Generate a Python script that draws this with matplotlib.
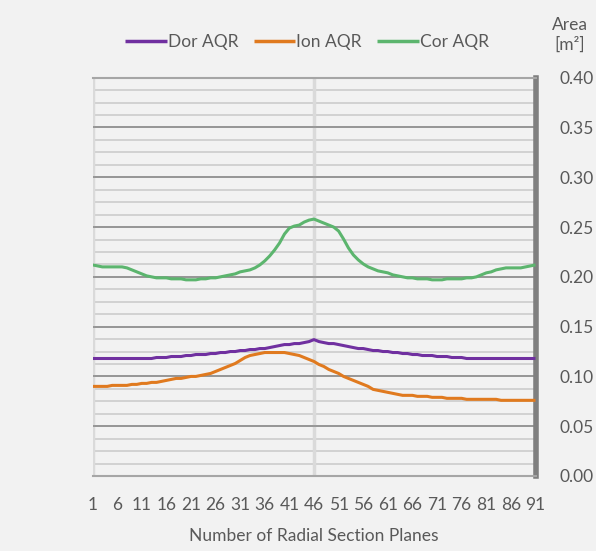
import matplotlib
matplotlib.use("Agg")
import matplotlib.pyplot as plt
import numpy as np

plt.rcParams['font.family'] = ['Lato', 'DejaVu Sans']

planes = list(range(1, 92))
tick_positions = list(range(1, 92, 5))

dor_aqr = [
    0.118, 0.118, 0.118, 0.118, 0.118, 0.118, 0.118, 0.118, 0.118, 0.118,
    0.118, 0.118, 0.118, 0.119, 0.119, 0.119, 0.120, 0.120, 0.120, 0.121,
    0.121, 0.122, 0.122, 0.122, 0.123, 0.123, 0.124, 0.124, 0.125, 0.125,
    0.126, 0.126, 0.127, 0.127, 0.128, 0.128, 0.129, 0.130, 0.131, 0.132,
    0.132, 0.133, 0.133, 0.134, 0.135, 0.137, 0.135, 0.134, 0.133, 0.133,
    0.132, 0.131, 0.130, 0.129, 0.128, 0.128, 0.127, 0.126, 0.126, 0.125,
    0.125, 0.124, 0.124, 0.123, 0.123, 0.122, 0.122, 0.121, 0.121, 0.121,
    0.120, 0.120, 0.120, 0.119, 0.119, 0.119, 0.118, 0.118, 0.118, 0.118,
    0.118, 0.118, 0.118, 0.118, 0.118, 0.118, 0.118, 0.118, 0.118, 0.118,
    0.118,
]

ion_aqr = [
    0.090, 0.090, 0.090, 0.090, 0.091, 0.091, 0.091, 0.091, 0.092, 0.092,
    0.093, 0.093, 0.094, 0.094, 0.095, 0.096, 0.097, 0.098, 0.098, 0.099,
    0.100, 0.100, 0.101, 0.102, 0.103, 0.105, 0.107, 0.109, 0.111, 0.113,
    0.116, 0.119, 0.121, 0.122, 0.123, 0.124, 0.124, 0.124, 0.124, 0.124,
    0.123, 0.122, 0.121, 0.119, 0.117, 0.115, 0.112, 0.110, 0.107, 0.105,
    0.103, 0.100, 0.098, 0.096, 0.094, 0.092, 0.090, 0.087, 0.086, 0.085,
    0.084, 0.083, 0.082, 0.081, 0.081, 0.081, 0.080, 0.080, 0.080, 0.079,
    0.079, 0.079, 0.078, 0.078, 0.078, 0.078, 0.077, 0.077, 0.077, 0.077,
    0.077, 0.077, 0.077, 0.076, 0.076, 0.076, 0.076, 0.076, 0.076, 0.076,
    0.076,
]

cor_aqr = [
    0.212, 0.211, 0.210, 0.210, 0.210, 0.210, 0.210, 0.209, 0.207, 0.205,
    0.203, 0.201, 0.200, 0.199, 0.199, 0.199, 0.198, 0.198, 0.198, 0.197,
    0.197, 0.197, 0.198, 0.198, 0.199, 0.199, 0.200, 0.201, 0.202, 0.203,
    0.205, 0.206, 0.207, 0.209, 0.212, 0.216, 0.221, 0.227, 0.234, 0.243,
    0.249, 0.251, 0.252, 0.255, 0.257, 0.258, 0.256, 0.254, 0.252, 0.250,
    0.246, 0.238, 0.229, 0.222, 0.217, 0.213, 0.210, 0.208, 0.206, 0.205,
    0.204, 0.202, 0.201, 0.200, 0.199, 0.199, 0.198, 0.198, 0.198, 0.197,
    0.197, 0.197, 0.198, 0.198, 0.198, 0.198, 0.199, 0.199, 0.200, 0.202,
    0.204, 0.205, 0.207, 0.208, 0.209, 0.209, 0.209, 0.209, 0.210, 0.211,
    0.212,
]

series_names = ["Dor AQR", "Ion AQR", "Cor AQR"]
series_colors = ["#7030A0", "#E07A1F", "#5CB56E"]
y_major = [0.00, 0.05, 0.10, 0.15, 0.20, 0.25, 0.30, 0.35, 0.40]

bg = "#F2F2F2"
text_col = "#595959"

W, H = 596, 551
fig = plt.figure(figsize=(W / 100, H / 100), dpi=100, facecolor=bg)
left, right, top, bottom = 92.5, 535.5, 77.7, 476.0
ax = fig.add_axes([left / W, 1 - bottom / H, (right - left) / W, (bottom - top) / H])
ax.set_facecolor(bg)

ax.set_xlim(1, 91)
ax.set_ylim(0, 0.40)

# minor grid
minor = np.arange(0, 0.4001, 0.0125)
for v in minor:
    ax.axhline(v, color="#CFCFCF", lw=1.3, zorder=1)
for v in y_major:
    ax.axhline(v, color="#8C8C8C", lw=1.2, zorder=1.5)
# vertical grid
for v in [1, 46]:
    ax.axvline(v, color="#DADADA", lw=2.5, zorder=1)

for vals, name, c in zip([dor_aqr, ion_aqr, cor_aqr], series_names, series_colors):
    ax.plot(planes, vals, color=c, lw=2.2, label=name, zorder=3, solid_capstyle="butt")

ax.spines["left"].set_visible(False)
ax.spines["right"].set_color("#7F7F7F")
ax.spines["right"].set_linewidth(4)
ax.spines["top"].set_color("#A6A6A6")
ax.spines["top"].set_linewidth(1.5)
ax.spines["bottom"].set_color("#A6A6A6")
ax.spines["bottom"].set_linewidth(1.5)

ax.yaxis.tick_right()
ax.set_yticks(y_major)
ax.set_yticklabels([f"{v:.2f}" for v in y_major])
ax.set_xticks(tick_positions)
ax.set_xticklabels([str(t) for t in tick_positions])
ax.tick_params(axis="both", length=0, labelsize=12.5, colors=text_col)
ax.tick_params(axis="y", pad=17)
ax.tick_params(axis="x", pad=15)

ax.set_xlabel("Number of Radial Section Planes", fontsize=12.5, color=text_col, labelpad=11)

fig.text(570 / W, 1 - 35 / H, "Area\n[m²]", ha="center", va="center",
         fontsize=12.5, color=text_col, linespacing=1.3)

leg = fig.legend(loc="center", bbox_to_anchor=(307 / W, 1 - 42 / H), ncol=3,
                 frameon=False, fontsize=12.5, handlelength=2.4, handletextpad=0.05,
                 columnspacing=0.9, labelcolor=text_col)
for line in leg.get_lines():
    line.set_linewidth(2.5)

fig.savefig("out.png", dpi=100, facecolor=bg)
